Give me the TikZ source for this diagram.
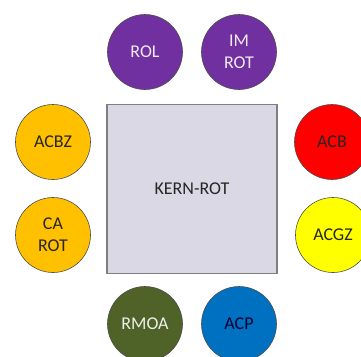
\documentclass[tikz,border=0pt]{standalone}
\usepackage{fontspec}
\setmainfont{Carlito}
\usepackage{tikz}

\definecolor{rolpurple}{HTML}{7030A0}
\definecolor{caorange}{HTML}{FFC000}
\definecolor{acbred}{HTML}{FF0000}
\definecolor{acgzyellow}{HTML}{FFFF00}
\definecolor{rmoagreen}{HTML}{4F6228}
\definecolor{acpblue}{HTML}{0070C0}
\definecolor{kernfill}{HTML}{DAD8E4}
\definecolor{kerndraw}{HTML}{7F7F7F}

\begin{document}
\begin{tikzpicture}[x=1pt,y=-1pt,
    round_node/.style={circle,draw=black!70,line width=0.6pt,inner sep=0pt,minimum size=75pt,
        align=center,font=\fontsize{18}{22}\selectfont},
    kern_node/.style={rectangle,draw=kerndraw,line width=1.2pt,fill=kernfill,
        minimum width=170pt,minimum height=169pt,font=\fontsize{18}{22}\selectfont,text=black!85}]
    \useasboundingbox (0,0) rectangle (361,356);

    \node[kern_node] (kern) at (192, 189) {KERN-ROT};

    \node[round_node,fill=rolpurple,text=white!90!rolpurple] (rol) at (145, 52) {ROL};
    \node[round_node,fill=rolpurple,text=white!90!rolpurple] (imrot) at (239, 52) {IM\\ROT};
    \node[round_node,fill=caorange,text=black!85] (acbz) at (53, 142) {ACBZ};
    \node[round_node,fill=caorange,text=black!85] (carot) at (53, 235) {CA\\ROT};
    \node[round_node,fill=acbred,text=black!85] (acb) at (332, 142) {ACB};
    \node[round_node,fill=acgzyellow,text=black!85] (acgz) at (333, 235) {ACGZ};
    \node[round_node,fill=rmoagreen,text=white!90!rmoagreen] (rmoa) at (145, 324) {RMOA};
    \node[round_node,fill=acpblue,text=black!80!blue] (acp) at (239, 324) {ACP};
\end{tikzpicture}
\end{document}
